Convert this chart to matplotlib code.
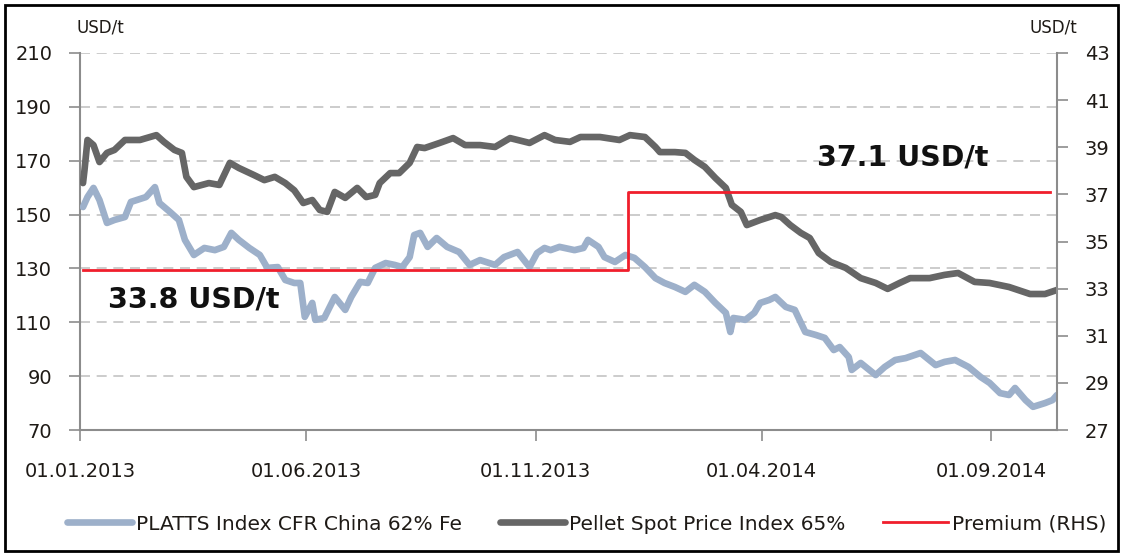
import matplotlib
matplotlib.use("Agg")
import matplotlib.pyplot as plt
import matplotlib.dates as mdates
import pandas as pd
from matplotlib.patches import Rectangle

# ---- data -------------------------------------------------------------
platts_dates = [
    "2013-01-03", "2013-01-06", "2013-01-10", "2013-01-14", "2013-01-19", "2013-01-24",
    "2013-01-31", "2013-02-04", "2013-02-14", "2013-02-20", "2013-02-23", "2013-03-02",
    "2013-03-08", "2013-03-12", "2013-03-18", "2013-03-25", "2013-04-01", "2013-04-07",
    "2013-04-12", "2013-04-17", "2013-04-24", "2013-05-01", "2013-05-06", "2013-05-13",
    "2013-05-18", "2013-05-24", "2013-05-28", "2013-05-31", "2013-06-05", "2013-06-07",
    "2013-06-13", "2013-06-20", "2013-06-27", "2013-07-01", "2013-07-07", "2013-07-12",
    "2013-07-17", "2013-07-24", "2013-07-30", "2013-08-04", "2013-08-09", "2013-08-12",
    "2013-08-16", "2013-08-21", "2013-08-27", "2013-09-03", "2013-09-11", "2013-09-18",
    "2013-09-25", "2013-10-05", "2013-10-11", "2013-10-20", "2013-10-28", "2013-11-02",
    "2013-11-07", "2013-11-11", "2013-11-17", "2013-11-27", "2013-12-03", "2013-12-06",
    "2013-12-13", "2013-12-17", "2013-12-24", "2013-12-31", "2014-01-06", "2014-01-13",
    "2014-01-20", "2014-01-26", "2014-02-02", "2014-02-09", "2014-02-15", "2014-02-22",
    "2014-03-01", "2014-03-08", "2014-03-11", "2014-03-13", "2014-03-21", "2014-03-27",
    "2014-03-31", "2014-04-06", "2014-04-10", "2014-04-17", "2014-04-23", "2014-04-30",
    "2014-05-07", "2014-05-13", "2014-05-19", "2014-05-23", "2014-05-29", "2014-05-31",
    "2014-06-06", "2014-06-16", "2014-06-22", "2014-06-29", "2014-07-06", "2014-07-16",
    "2014-07-26", "2014-08-01", "2014-08-08", "2014-08-17", "2014-08-25", "2014-08-31",
    "2014-09-07", "2014-09-13", "2014-09-17", "2014-09-24", "2014-09-29", "2014-10-07",
    "2014-10-12", "2014-10-15",
]
platts_values = [
    152.8, 156.5, 159.9, 155.4, 146.9, 148.0,
    149.1, 154.7, 156.5, 160.2, 154.3, 151.0,
    148.0, 140.6, 135.0, 137.6, 136.8, 138.0,
    143.2, 140.6, 137.6, 135.0, 130.2, 130.5,
    125.7, 124.6, 124.6, 112.0, 117.2, 110.9,
    111.6, 119.4, 114.6, 119.4, 125.0, 124.6,
    130.2, 132.0, 131.3, 130.5, 134.2, 142.4,
    143.2, 138.0, 141.3, 138.0, 136.1, 131.3,
    133.1, 131.3, 134.2, 136.1, 130.5, 135.7,
    137.6, 136.8, 138.0, 136.8, 137.6, 140.6,
    138.0, 134.2, 132.4, 135.0, 133.9, 130.5,
    126.4, 124.6, 123.1, 121.3, 123.9, 121.3,
    117.2, 113.5, 106.4, 111.6, 110.9, 113.5,
    117.2, 118.3, 119.4, 115.7, 114.6, 106.4,
    105.3, 104.2, 99.7, 100.8, 97.1, 92.3,
    94.9, 90.4, 93.4, 96.0, 96.7, 98.6,
    94.1, 95.3, 96.0, 93.4, 89.7, 87.5,
    83.7, 83.0, 85.6, 81.1, 78.6, 80.0,
    81.1, 83.0,
]

pellet_dates = [
    "2013-01-03", "2013-01-04", "2013-01-06", "2013-01-10", "2013-01-14", "2013-01-19",
    "2013-01-24", "2013-01-31", "2013-02-10", "2013-02-21", "2013-02-26", "2013-03-05",
    "2013-03-10", "2013-03-13", "2013-03-18", "2013-03-28", "2013-04-04", "2013-04-11",
    "2013-04-17", "2013-04-27", "2013-05-04", "2013-05-11", "2013-05-18", "2013-05-24",
    "2013-05-30", "2013-06-05", "2013-06-10", "2013-06-15", "2013-06-20", "2013-06-27",
    "2013-07-05", "2013-07-11", "2013-07-17", "2013-07-20", "2013-07-27", "2013-08-02",
    "2013-08-09", "2013-08-14", "2013-08-19", "2013-08-29", "2013-09-07", "2013-09-15",
    "2013-09-25", "2013-10-05", "2013-10-15", "2013-10-28", "2013-11-07", "2013-11-14",
    "2013-11-24", "2013-12-01", "2013-12-14", "2013-12-27", "2014-01-03", "2014-01-13",
    "2014-01-20", "2014-01-23", "2014-02-02", "2014-02-09", "2014-02-15", "2014-02-22",
    "2014-03-01", "2014-03-08", "2014-03-12", "2014-03-18", "2014-03-22", "2014-03-31",
    "2014-04-10", "2014-04-14", "2014-04-20", "2014-04-27", "2014-05-03", "2014-05-09",
    "2014-05-17", "2014-05-27", "2014-06-06", "2014-06-16", "2014-06-24", "2014-07-02",
    "2014-07-09", "2014-07-22", "2014-08-01", "2014-08-10", "2014-08-21", "2014-08-31",
    "2014-09-13", "2014-09-27", "2014-10-07", "2014-10-15",
]
pellet_values = [
    161.7, 166.5, 177.7, 175.8, 169.5, 172.9,
    174.0, 177.7, 177.7, 179.5, 177.0, 174.0,
    172.9, 164.0, 160.2, 161.7, 161.0, 169.2,
    167.3, 164.7, 162.8, 164.0, 161.7, 159.0,
    154.3, 155.4, 151.7, 151.0, 158.4, 156.2,
    159.9, 156.5, 157.3, 161.7, 165.4, 165.4,
    169.2, 175.1, 174.7, 176.6, 178.4, 175.8,
    175.8, 175.1, 178.4, 176.6, 179.5, 177.7,
    177.0, 178.8, 178.8, 177.7, 179.5, 178.8,
    175.1, 173.2, 173.2, 172.9, 170.3, 167.7,
    163.6, 159.9, 153.6, 151.0, 146.1, 148.0,
    149.8, 149.1, 146.1, 143.2, 141.3, 135.7,
    132.4, 130.2, 126.4, 124.6, 122.4, 124.6,
    126.4, 126.4, 127.6, 128.3, 125.0, 124.6,
    123.1, 120.5, 120.5, 122.0,
]

premium_dates = ["2013-01-03", "2014-01-02", "2014-10-10"]
premium_values = [33.8, 37.1, 37.1]

left_ticks = [70, 90, 110, 130, 150, 170, 190, 210]
right_ticks = [27, 29, 31, 33, 35, 37, 39, 41, 43]
x_tick_dates = ["2013-01-01", "2013-06-01", "2013-11-01", "2014-04-01", "2014-09-01"]
x_range = ["2013-01-01", "2014-10-15"]

series_labels = ["PLATTS Index CFR China 62% Fe", "Pellet Spot Price Index 65%", "Premium (RHS)"]
unit_label = "USD/t"

# ---- styling ----------------------------------------------------------
c_platts = "#9db0ca"
c_pellet = "#666666"
c_premium = "#f01e2c"
c_axis = "#8c8c8c"
c_text = "#1e1a16"

W, H = 1124, 556
fig = plt.figure(figsize=(W / 100, H / 100), dpi=100)
fig.patch.set_facecolor("white")

# plot area in pixel terms: x 80..1057, y 53..430
ax = fig.add_axes([80 / W, 1 - 430 / H, 977 / W, 377 / H])
ax2 = ax.twinx()

pd_platts = pd.to_datetime(platts_dates)
pd_pellet = pd.to_datetime(pellet_dates)
pd_prem = pd.to_datetime(premium_dates)

l1, = ax.plot(pd_platts, platts_values, color=c_platts, lw=4.8,
              solid_joinstyle="round", solid_capstyle="round", zorder=3)
l2, = ax.plot(pd_pellet, pellet_values, color=c_pellet, lw=4.8,
              solid_joinstyle="round", solid_capstyle="round", zorder=4)
l3, = ax2.plot(pd_prem, premium_values, color=c_premium, lw=2.0,
               drawstyle="steps-post", zorder=5)

# axes ranges
ax.set_ylim(left_ticks[0], left_ticks[-1])
ax2.set_ylim(right_ticks[0], right_ticks[-1])
ax.set_xlim(pd.to_datetime(x_range[0]), pd.to_datetime(x_range[1]))

ax.set_yticks(left_ticks)
ax2.set_yticks(right_ticks)
ax.set_xticks(pd.to_datetime(x_tick_dates))
ax.xaxis.set_major_formatter(mdates.DateFormatter("%d.%m.%Y"))

# dashed horizontal gridlines on the left scale
for v in left_ticks[1:]:
    ax.axhline(v, color="#c4c4c4", lw=1.2, ls=(0, (6, 4)), zorder=1)

for a in (ax, ax2):
    a.set_facecolor("none")
    for s in a.spines.values():
        s.set_visible(False)
ax.spines["left"].set_visible(True)
ax.spines["bottom"].set_visible(True)
ax2.spines["right"].set_visible(True)
for s in (ax.spines["left"], ax.spines["bottom"], ax2.spines["right"]):
    s.set_color(c_axis)
    s.set_linewidth(1.5)

ax.tick_params(axis="y", direction="out", length=8, width=1.2, color=c_axis,
               labelsize=14, labelcolor=c_text, pad=12)
ax.tick_params(axis="x", direction="out", length=8, width=1.2, color=c_axis,
               labelsize=14, labelcolor=c_text, pad=15)
ax2.tick_params(axis="y", direction="out", length=8, width=1.2, color=c_axis,
                labelsize=14, labelcolor=c_text, pad=12)

# unit labels above both scales
fig.text(100 / W, 1 - 27 / H, unit_label, ha="center", va="center",
         fontsize=12, color=c_text)
fig.text(1053 / W, 1 - 27 / H, unit_label, ha="center", va="center",
         fontsize=12, color=c_text)

# premium annotations
ax.text(0.116, 0.345, f"{premium_values[0]:.1f} {unit_label}", transform=ax.transAxes,
        ha="center", va="center", fontsize=20.5, fontweight="bold", color="#111111", zorder=6)
ax.text(0.842, 0.724, f"{premium_values[1]:.1f} {unit_label}", transform=ax.transAxes,
        ha="center", va="center", fontsize=20.5, fontweight="bold", color="#111111", zorder=6)

# legend
fig.legend([l1, l2, l3], series_labels, loc="center", ncol=3,
           bbox_to_anchor=(0.522, 1 - 524 / H), frameon=False, fontsize=14.5,
           handlelength=3.2, handletextpad=0.2, columnspacing=1.9,
           labelcolor=c_text)

# outer frame
fig.patches.append(Rectangle((5 / W, 5 / H), 1 - 11 / W, 1 - 10 / H,
                             transform=fig.transFigure, fill=False,
                             edgecolor="black", lw=2.0))

fig.savefig("out.png", dpi=100, facecolor="white")
